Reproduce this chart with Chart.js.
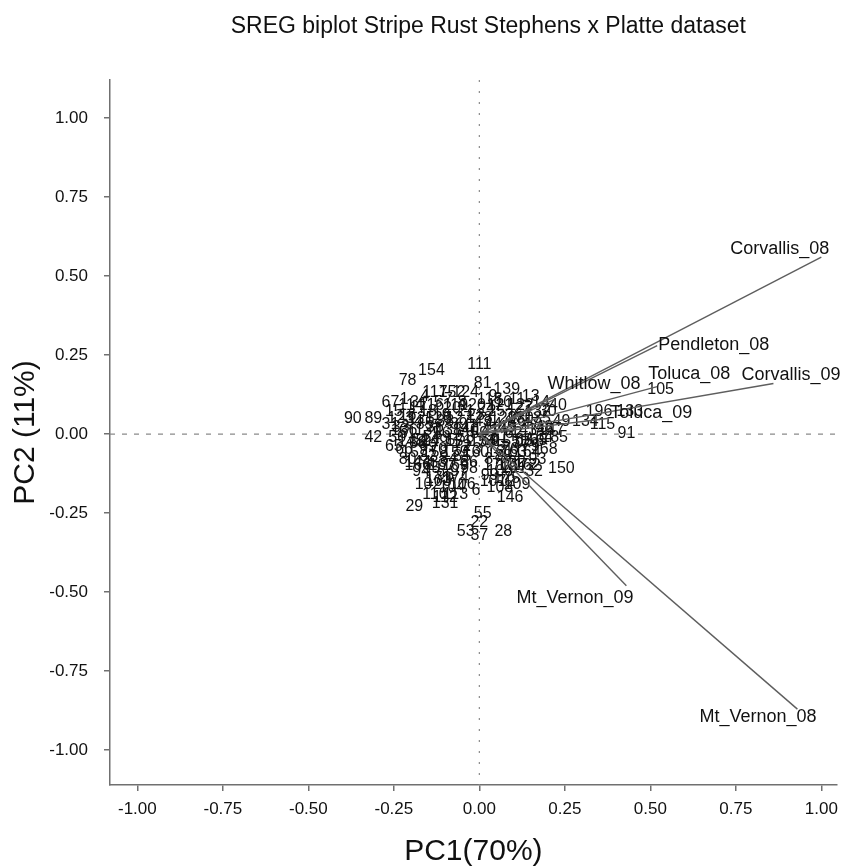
<!DOCTYPE html>
<html>
<head>
<meta charset="utf-8">
<title>SREG biplot</title>
<script src="https://cdn.jsdelivr.net/npm/chart.js@4.4.1/dist/chart.umd.min.js"></script>
<style>
  html, body { margin: 0; padding: 0; background: #fff; }
  canvas { display: block; }
</style>
</head>
<body>
<canvas id="biplot" width="846" height="867"></canvas>
<script>
// genotype scores (PC1, PC2)
const genotypes = [
  111, 154, 78, 81, 117, 152, 124, 118, 139, 67, 90, 89, 42,
  105, 133, 196, 115, 91, 185, 168, 150, 12, 146, 6, 131, 29,
  55, 22, 53, 37, 28, 40, 132, 134, 165, 162, 32, 144,
  1, 3, 4, 5, 7, 8, 9, 10, 11, 13, 14,
  15, 16, 17, 18, 19, 20, 21, 23, 24, 25, 26, 27, 30,
  31, 33, 34, 35, 36, 38, 39, 41, 43, 44, 45, 46, 47, 48, 49,
  50, 51, 52, 54, 56, 57, 58, 59, 60, 61, 62, 63, 64,
  65, 66, 68, 69, 70, 71, 72, 73, 74, 75, 76, 77, 79,
  80, 82, 83, 84, 85, 86, 87, 88, 92, 93,
  94, 95, 96, 97, 98, 99, 100, 101,
  102, 103, 104, 106, 107, 108, 109,
  110, 112, 113,
  114, 116, 119, 120, 121, 122,
  123, 125, 126, 127, 128, 129, 130, 135,
  136, 137, 138, 140, 141, 142, 143, 145, 147,
  148, 149, 151, 153, 155, 156,
  157, 158, 159, 160, 161, 163, 164,
  166, 167, 169, 170, 171, 172,
  173, 174, 175
];
const genoPC1 = [
  0.00, -0.14, -0.21, 0.01, -0.13, -0.08, -0.04, 0.03, 0.08, -0.26, -0.37, -0.31, -0.31,
  0.53, 0.44, 0.35, 0.36, 0.43, 0.22, 0.19, 0.24, 0.08, 0.09, -0.01, -0.10, -0.19,
  0.01, 0.00, -0.04, 0.00, 0.07, 0.23, 0.17, 0.31, 0.16, 0.14, 0.16, -0.18,
  -0.22, -0.19, -0.16, -0.12, -0.09, -0.05, 0.04, 0.07, 0.11, 0.15, 0.18,
  -0.25, -0.21, -0.18, -0.15, -0.11, -0.08, -0.04, -0.01, 0.02, 0.05, 0.10, 0.13, 0.20,
  -0.26, -0.23, -0.19, -0.16, -0.13, -0.10, -0.06, -0.03, 0.01, 0.04, 0.08, 0.11, 0.15, 0.19, 0.24,
  -0.24, -0.21, -0.17, -0.14, -0.11, -0.07, -0.04, 0.00, 0.03, 0.06, 0.10, 0.13, 0.19,
  -0.25, -0.22, -0.18, -0.15, -0.12, -0.08, -0.05, -0.02, 0.02, 0.05, 0.09, 0.12, 0.15,
  -0.21, -0.15, -0.12, -0.09, -0.05, -0.03, 0.04, 0.07, 0.11, 0.17,
  -0.17, -0.14, -0.10, -0.06, -0.03, 0.03, 0.06, 0.10,
  -0.15, -0.12, -0.08, -0.05, 0.04, 0.06, 0.11,
  -0.13, -0.10, -0.07,
  -0.20, -0.14, -0.07, -0.02, 0.06, 0.12,
  -0.23, -0.17, -0.12, -0.06, 0.00, 0.07, 0.12, 0.17,
  -0.22, -0.15, -0.09, -0.04, 0.02, 0.07, 0.13, 0.18, 0.21,
  -0.20, -0.13, -0.06, 0.01, 0.08, 0.15,
  -0.19, -0.13, -0.07, -0.01, 0.06, 0.10, 0.14,
  -0.18, -0.11, -0.07, 0.05, 0.09, 0.13,
  -0.12, -0.07, 0.08
];
const genoPC2 = [
  0.22, 0.20, 0.17, 0.16, 0.13, 0.13, 0.13, 0.11, 0.14, 0.10, 0.05, 0.05, -0.01,
  0.14, 0.07, 0.07, 0.03, 0.00, -0.01, -0.05, -0.11, -0.15, -0.20, -0.18, -0.22, -0.23,
  -0.25, -0.28, -0.31, -0.32, -0.31, 0.09, 0.07, 0.04, -0.02, -0.10, -0.12, -0.09,
  0.11, 0.10, 0.12, 0.10, 0.11, 0.10, 0.12, 0.10, 0.11, 0.12, 0.10,
  0.07, 0.06, 0.08, 0.07, 0.06, 0.08, 0.07, 0.06, 0.08, 0.07, 0.06, 0.08, 0.07,
  0.03, 0.02, 0.04, 0.03, 0.02, 0.04, 0.03, 0.02, 0.04, 0.03, 0.02, 0.04, 0.03, 0.02, 0.04,
  -0.01, 0.00, -0.02, -0.01, 0.00, -0.02, -0.01, 0.00, -0.02, -0.01, 0.00, -0.02, -0.01,
  -0.04, -0.05, -0.03, -0.04, -0.05, -0.03, -0.04, -0.05, -0.03, -0.04, -0.05, -0.03, -0.04,
  -0.08, -0.07, -0.09, -0.08, -0.07, -0.09, -0.08, -0.07, -0.09, -0.08,
  -0.12, -0.11, -0.13, -0.12, -0.11, -0.13, -0.12, -0.11,
  -0.16, -0.15, -0.17, -0.16, -0.15, -0.17, -0.16,
  -0.19, -0.20, -0.19,
  0.09, 0.09, 0.09, 0.09, 0.09, 0.09,
  0.05, 0.05, 0.05, 0.05, 0.05, 0.05, 0.05, 0.05,
  0.01, 0.01, 0.01, 0.01, 0.01, 0.01, 0.01, 0.01, 0.01,
  -0.025, -0.025, -0.025, -0.025, -0.025, -0.025,
  -0.06, -0.06, -0.06, -0.06, -0.06, -0.06, -0.06,
  -0.10, -0.10, -0.10, -0.10, -0.10, -0.10,
  -0.14, -0.14, -0.14
];

// environment vectors
const environments = ['Corvallis_08', 'Pendleton_08', 'Toluca_08', 'Corvallis_09',
  'Whitlow_08', 'Toluca_09', 'Mt_Vernon_09', 'Mt_Vernon_08'];
const envPC1 = [1.00, 0.52, 0.52, 0.86, 0.22, 0.38, 0.43, 0.93];
const envPC2 = [0.56, 0.28, 0.15, 0.16, 0.11, 0.05, -0.48, -0.87];

const xTicks = [-1, -0.75, -0.5, -0.25, 0, 0.25, 0.5, 0.75, 1];
const yTicks = [-1, -0.75, -0.5, -0.25, 0, 0.25, 0.5, 0.75, 1];

// where each environment name sits relative to its vector tip (px)
const envLabelShift = [[-91, -8], [1, -1], [-9, -13], [-32, -8], [-7, -15], [1, -5], [-110, 12], [-98, 8]];

const fontFamily = '"Liberation Sans", Arial, sans-serif';
const axisGrey = '#707070';
const inkColor = '#111111';

const genoData = genotypes.map((g, i) => ({ x: genoPC1[i], y: genoPC2[i], name: String(g) }));

const vectorSets = environments.map((e, i) => ({
  type: 'line',
  label: e,
  data: [{ x: 0, y: 0 }, { x: envPC1[i], y: envPC2[i] }],
  borderColor: '#5e5e5e',
  borderWidth: 1.4,
  pointRadius: 0,
  fill: false
}));

const biplotText = {
  id: 'biplotText',
  beforeDatasetsDraw(chart) {
    const { ctx, chartArea: a, scales: { x, y } } = chart;
    ctx.save();
    ctx.strokeStyle = '#8a8a8a';
    ctx.lineWidth = 1.2;
    // zero reference lines
    const y0 = y.getPixelForValue(0);
    ctx.setLineDash([5, 7]);
    ctx.beginPath();
    ctx.moveTo(a.left, y0);
    ctx.lineTo(a.right, y0);
    ctx.stroke();
    const x0 = x.getPixelForValue(0);
    ctx.setLineDash([2, 9]);
    ctx.beginPath();
    ctx.moveTo(x0, a.top);
    ctx.lineTo(x0, a.bottom);
    ctx.stroke();
    ctx.setLineDash([]);

    // genotype numbers
    const meta = chart.getDatasetMeta(0);
    ctx.font = '16px ' + fontFamily;
    ctx.fillStyle = inkColor;
    ctx.textAlign = 'center';
    ctx.textBaseline = 'middle';
    meta.data.forEach((pt, i) => {
      ctx.fillText(genoData[i].name, pt.x, pt.y);
    });
    ctx.restore();
  },
  afterDatasetsDraw(chart) {
    const { ctx, chartArea: a } = chart;
    ctx.save();
    ctx.font = '18px ' + fontFamily;
    ctx.fillStyle = inkColor;
    ctx.textAlign = 'left';
    ctx.textBaseline = 'middle';
    environments.forEach((e, i) => {
      const tip = chart.getDatasetMeta(i + 1).data[1];
      ctx.fillText(e, tip.x + envLabelShift[i][0], tip.y + envLabelShift[i][1]);
    });
    // main title, centred a little right of the plot centre as in the source figure
    ctx.font = '23px ' + fontFamily;
    ctx.textAlign = 'center';
    ctx.fillText('SREG biplot Stripe Rust Stephens x Platte dataset', (a.left + a.right) / 2 + 15, 27);
    ctx.restore();
  }
};

new Chart(document.getElementById('biplot'), {
  type: 'scatter',
  data: {
    datasets: [{
      label: 'Genotypes',
      data: genoData,
      pointRadius: 0,
      pointHoverRadius: 0
    }].concat(vectorSets)
  },
  options: {
    responsive: false,
    animation: false,
    devicePixelRatio: 1,
    layout: { padding: { top: 80, right: 6, bottom: 0, left: 0 } },
    plugins: {
      legend: { display: false },
      tooltip: { enabled: false },
      title: { display: false }
    },
    scales: {
      x: {
        type: 'linear',
        min: -1.08,
        max: 1.045,
        afterBuildTicks: s => { s.ticks = xTicks.map(v => ({ value: v })); },
        afterFit: s => { s.height = 82; },
        grid: { drawOnChartArea: false, drawTicks: true, tickLength: 6, color: axisGrey, lineWidth: 1.5 },
        border: { display: true, color: axisGrey, width: 1.5 },
        ticks: {
          color: inkColor,
          padding: 8,
          font: { family: fontFamily, size: 17 },
          callback: v => v.toFixed(2)
        },
        title: {
          display: true,
          text: 'PC1(70%)',
          color: inkColor,
          font: { family: fontFamily, size: 30, lineHeight: 1 },
          padding: { top: 0, bottom: 0 }
        }
      },
      y: {
        type: 'linear',
        min: -1.11,
        max: 1.12,
        afterBuildTicks: s => { s.ticks = yTicks.map(v => ({ value: v })); },
        afterFit: s => { s.width = 110; },
        grid: { drawOnChartArea: false, drawTicks: true, tickLength: 6, color: axisGrey, lineWidth: 1.5 },
        border: { display: true, color: axisGrey, width: 1.5 },
        ticks: {
          color: inkColor,
          padding: 16,
          font: { family: fontFamily, size: 17 },
          callback: v => v.toFixed(2)
        },
        title: {
          display: true,
          text: 'PC2 (11%)',
          color: inkColor,
          font: { family: fontFamily, size: 30, lineHeight: 1 },
          padding: { top: 11, bottom: 0 }
        }
      }
    }
  },
  plugins: [biplotText]
});
</script>
</body>
</html>
